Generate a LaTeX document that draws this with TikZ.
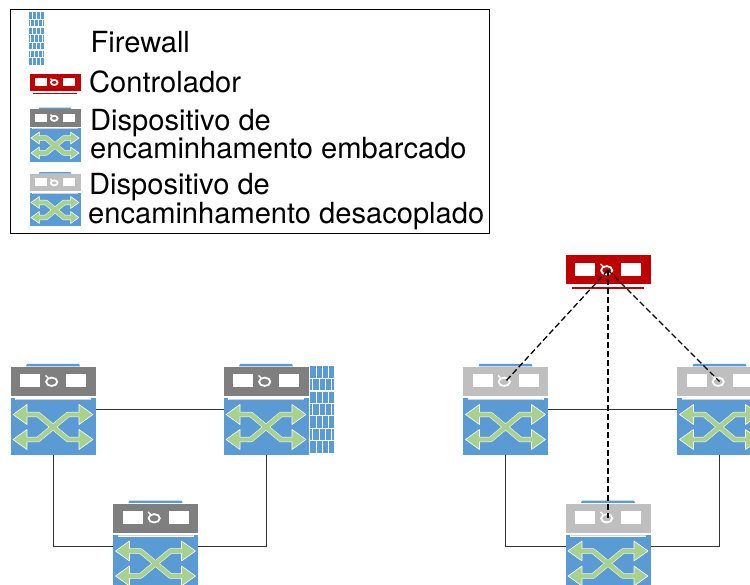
\documentclass[tikz,border=0pt]{standalone}
\usepackage{fontspec}
\setmainfont{TeX Gyre Heros}
\definecolor{netblue}{HTML}{5B9BD5}
\definecolor{netgreen}{HTML}{A9D18E}
\definecolor{ctrlred}{HTML}{C00000}
\definecolor{embgray}{HTML}{7F7F7F}
\definecolor{decgray}{HTML}{BFBFBF}
\newcommand{\panelbody}[2]{%
  \begin{scope}[shift={(0,#2)}]
    \fill[#1] (-42.5,-14.5) rectangle (42.5,14.5);
    \fill[white] (-33,-7) rectangle (-13,5.8);
    \fill[white] (13,-7) rectangle (33,5.8);
    \draw[white,line width=1.8pt] (-1.3,0.3) circle[x radius=5.6,y radius=4.2];
    \draw[white,line width=1.4pt] (-7.5,-6) -- (-4.5,-3.2);
    \coordinate (-hub) at (0,0);
  \end{scope}}
\tikzset{
  x=1pt,y=-1pt,
  legendtext/.style={anchor=base west,inner sep=0pt,font=\fontsize{29.1}{32}\selectfont,text=black},
  link/.style={draw=black!80,line width=.8pt},
  ctrllink/.style={draw=black,line width=1.3pt,dash pattern=on 6pt off 3pt},
  devbox/.style={transform shape,inner sep=0pt,outer sep=0pt,minimum width=85pt,minimum height=91pt},
  ctrlbox/.style={transform shape,inner sep=0pt,outer sep=0pt,minimum width=85pt,minimum height=32pt},
  wallbox/.style={transform shape,inner sep=0pt,outer sep=0pt,minimum width=24pt,minimum height=87pt},
  device/.pic={
    \node[devbox] (-box) {};
    \fill[netblue] (-26,-45.5) -- (26,-45.5) -- (27,-43.2) -- (-27,-43.2) -- cycle;
    \panelbody{#1}{-28}
    \fill[netblue] (-42.5,-11.5) rectangle (-38,-9);
    \fill[netblue] (42.5,-11.5) rectangle (38,-9);
    \fill[decgray!70] (-37.5,-11) rectangle (37.5,-9.8);
    \fill[netblue] (-42.5,-9.5) rectangle (42.5,45);
    \foreach \sx in {-1,1}{\foreach \sy in {-1,1}{
      \begin{scope}[shift={(0,17.5)},xscale=\sx,yscale=\sy]
        \draw[white,line width=5.4pt,line join=round] (0,0) -- (15,12.5) -- (30,12.5);
        \filldraw[draw=white,fill=netgreen,line width=.6pt,line join=round] (40,12.5) -- (26,2.5) -- (26,22.5) -- cycle;
      \end{scope}
    }}
    \foreach \sx in {-1,1}{\foreach \sy in {-1,1}{
      \begin{scope}[shift={(0,17.5)},xscale=\sx,yscale=\sy]
        \draw[netgreen,line width=4.4pt,line join=round] (0,0) -- (15,12.5) -- (30,12.5);
      \end{scope}
    }}
  },
  controller/.pic={
    \node[ctrlbox] (-box) {};
    \panelbody{ctrlred}{-2}
    \fill[ctrlred] (-36,15.4) rectangle (36,16.8);
  },
  firewall/.pic={
    \node[wallbox] (-box) {};
    \fill[netblue] (-12,-43.5) rectangle (12.3,43.5);
    \foreach \r in {1,...,6}{\draw[white,line width=1.3pt] (-12,-43.5+\r*12.43) -- (12.3,-43.5+\r*12.43);}
    \foreach \r in {0,2,4,6}{\foreach \c in {-6,0.3,6.3}{\draw[white,line width=.9pt] (\c,-43.5+\r*12.43) -- (\c,-43.5+\r*12.43+12.43);}}
    \foreach \r in {1,3,5}{\foreach \c in {-9.7,-3,3,9.7}{\draw[white,line width=.9pt] (\c,-43.5+\r*12.43) -- (\c,-43.5+\r*12.43+12.43);}}
  },
}
\begin{document}
\begin{tikzpicture}
\useasboundingbox (0,0) rectangle (750,585);
\clip (0,0) rectangle (750,585);
\fill[white] (0,0) rectangle (750,585);
% legend
\node[draw=black,line width=.7pt,inner sep=0pt,minimum width=479.5pt,minimum height=224.5pt] (legend) at (250,121.5) {};
\pic[scale=.61] (lw) at (36.5,38.5) {firewall};
\pic[scale=.6] (lc) at (55,83.5) {controller};
\pic[scale=.6] (le) at (55,135) {device={embgray}};
\pic[scale=.6] (ld) at (55,199.5) {device={decgray}};
\node[legendtext] (t1) at (90.5,53) {Firewall};
\node[legendtext] (t2) at (89,93) {Controlador};
\node[legendtext] (t3) at (90,131) {Dispositivo de};
\node[legendtext] (t4) at (90,159) {encaminhamento embarcado};
\node[legendtext] (t5) at (89,195) {Dispositivo de};
\node[legendtext] (t6) at (88,224) {encaminhamento desacoplado};
\path (53,409.5) coordinate (Ac) (266,409.5) coordinate (Bc) (155.5,546) coordinate (Cc)
      (505.5,409.5) coordinate (Dc) (719.5,409.5) coordinate (Ec) (608,546) coordinate (Fc);
% left network
\pic (A) at (Ac) {device={embgray}};
\pic (B) at (Bc) {device={embgray}};
\pic (C) at (Cc) {device={embgray}};
\pic (W) at (322,409.5) {firewall};
% right network
\pic (D) at (Dc) {device={decgray}};
\pic (E) at (Ec) {device={decgray}};
\pic (F) at (Fc) {device={decgray}};
\pic (K) at (608,272) {controller};
\draw[link] (A-box.east) -- (B-box.west);
\draw[link] (A-box.south) |- (C-box.west);
\draw[link] (B-box.south) |- (C-box.east);
\draw[link] (D-box.east) -- (E-box.west);
\draw[link] (D-box.south) |- (F-box.west);
\draw[link] (E-box.south) |- (F-box.east);
\draw[ctrllink] (K-hub) -- (D-hub);
\draw[ctrllink] (K-hub) -- (E-hub);
\draw[ctrllink] (K-hub) -- (F-hub);
\end{tikzpicture}
\end{document}
